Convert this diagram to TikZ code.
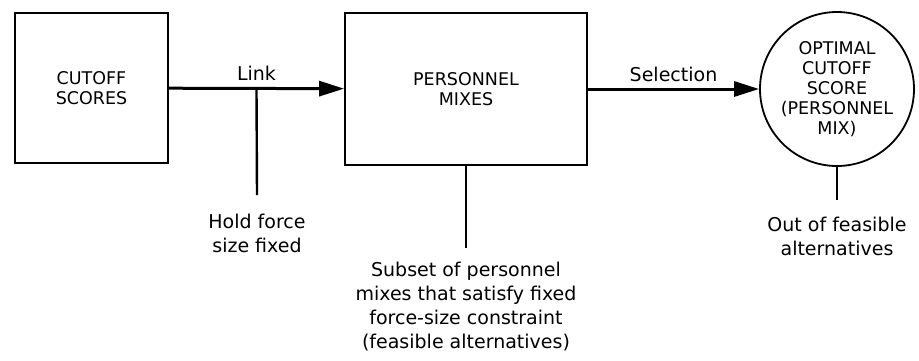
\documentclass[tikz,border=0pt]{standalone}
\usepackage{fontspec}
\setmainfont{DejaVu Sans}
\usetikzlibrary{arrows.meta}

\begin{document}
\begin{tikzpicture}[x=1pt,y=1pt,yscale=-1,
    box/.style={draw, line width=1.8pt, align=center, inner sep=0pt, font=\fontsize{17.5}{20}\selectfont},
    flow/.style={line width=3pt, -{Triangle[length=25pt,width=15pt]}},
    stem/.style={line width=2.4pt},
    lbl/.style={align=center, inner sep=3pt, font=\fontsize{19}{24}\selectfont}]
    \useasboundingbox (0,0) rectangle (919,360);

    %Shape: Rectangle [cutoff]
    \node [box, minimum width=153pt, minimum height=150pt] (cutoff) at (91.5,88) {CUTOFF\\SCORES};

    %Shape: Rectangle [personnel]
    \node [box, minimum width=242pt, minimum height=152pt] (personnel) at (466,89) {PERSONNEL\\MIXES};

    %Shape: Circle [optimal]
    \node [box, circle, minimum size=154pt] (optimal) at (837,89) {OPTIMAL\\CUTOFF\\SCORE\\(PERSONNEL\\MIX)};

    %Straight Lines [link]
    \draw [flow] (cutoff) -- coordinate (linkmid) node [lbl, above=6pt, inner sep=0pt] (linklbl) {Link} (personnel);

    %Straight Lines [selection]
    \draw [flow] (personnel) -- node [lbl, above=6pt, inner sep=0pt] (sellbl) {Selection} (optimal);

    % stem ends
    \coordinate (holdend) at (257,195);
    \coordinate (subend) at (466,248);
    \coordinate (outend) at (837,200);

    %Straight Lines [stems]
    \draw [stem] (linkmid) -- (holdend);
    \draw [stem] (personnel.south) -- (subend);
    \draw [stem] (optimal.south) -- (outend);

    % Text Node
    \node [lbl, anchor=north] (hold) at (257,211) {Hold force\\size fixed};
    % Text Node
    \node [lbl, anchor=north] (subset) at (466,259) {Subset of personnel\\mixes that satisfy fixed\\force-size constraint\\(feasible alternatives)};
    % Text Node
    \node [lbl, anchor=north] (outof) at (837,214) {Out of feasible\\alternatives};

\end{tikzpicture}
\end{document}
